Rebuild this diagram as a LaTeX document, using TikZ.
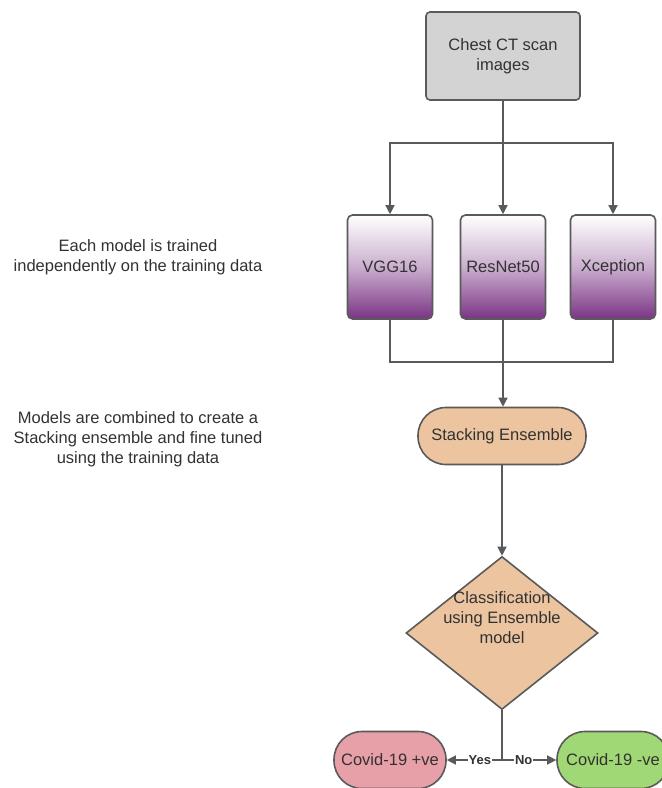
\documentclass[tikz,border=0pt]{standalone}
\usepackage{fontspec}
\setmainfont{Liberation Sans}
\usepackage{tikz}
\usetikzlibrary{shapes, arrows, calc, positioning}
\usetikzlibrary{arrows.meta}

\definecolor{linegray}{RGB}{90,90,90}
\definecolor{textgray}{RGB}{50,50,50}
\definecolor{boxgray}{RGB}{211,211,211}
\definecolor{modelpurple}{RGB}{122,52,132}
\definecolor{tan}{RGB}{236,196,160}
\definecolor{posred}{RGB}{232,160,168}
\definecolor{neggreen}{RGB}{161,216,118}

\begin{document}
\begin{tikzpicture}[
  x=1pt, y=-1pt,
  every node/.style={font=\fontsize{16.5}{20}\selectfont, align=center, text=textgray},
  conn/.style={draw=linegray, line width=1.4pt},
  arr/.style={conn, -{Triangle[length=9pt, width=9pt]}},
  input/.style={rectangle, draw=linegray, line width=1.6pt, fill=boxgray, rounded corners=4pt, minimum width=154pt, minimum height=88pt},
  model/.style={rectangle, draw=linegray, line width=1.6pt, rounded corners=5pt, minimum width=85pt, minimum height=104pt,
    top color=white, bottom color=modelpurple, middle color=modelpurple!40},
  terminal/.style={rectangle, draw=linegray, line width=1.6pt, rounded corners=28pt, minimum height=57pt},
  decision/.style={diamond, draw=linegray, line width=1.6pt, fill=tan, minimum width=192pt, minimum height=153pt, inner sep=0pt, aspect=1.25},
  edge label/.style={font=\fontsize{13}{15}\bfseries, fill=white, inner sep=1pt}
]
\clip (0,0) rectangle (662,788);
\fill[white] (0,0) rectangle (662,788);

% input
\node[input] (scan) at (503,56) {Chest CT scan\\images};

% models
\node[model] (vgg) at (390,267) {VGG16};
\node[model] (resnet) at (503,267) {ResNet50};
\node[model] (xcep) at (613,267) {Xception};

% ensemble and decision
\node[terminal, fill=tan, minimum width=168pt] (stack) at (502,436) {Stacking Ensemble};
\node[decision] (cls) at (502,633) {};
\node (clstext) at ([yshift=15pt]cls.center) {Classification\\using Ensemble\\model};

% outputs
\node[terminal, fill=posred, minimum width=112pt] (pos) at (390,760) {Covid-19 +ve};
\node[terminal, fill=neggreen, minimum width=112pt] (neg) at (613,760) {Covid-19 -ve};

% notes
\node (note1) at (138,257) {Each model is trained\\independently on the training data};
\node (note2) at (138,439) {Models are combined to create a\\Stacking ensemble and fine tuned\\using the training data};

% connectors
\coordinate (split) at (503,143);
\coordinate (join) at (503,362);
\coordinate (fork) at (502,760);
\draw[conn] (scan.south) -- (split);
\draw[arr] (split) -| (vgg.north);
\draw[arr] (split) -- (resnet.north);
\draw[arr] (split) -| (xcep.north);
\draw[conn] (vgg.south) |- (join);
\draw[conn] (xcep.south) |- (join);
\draw[conn] (resnet.south) -- (join);
\draw[arr] (join) -- (join |- stack.north);
\draw[arr] (stack.south) -- (cls.north);
\draw[conn] (cls.south) -- (fork);
\draw[arr] (fork) -- node[edge label, pos=0.4] {Yes} (pos.east);
\draw[arr] (fork) -- node[edge label, pos=0.4] {No} (neg.west);
\end{tikzpicture}
\end{document}
